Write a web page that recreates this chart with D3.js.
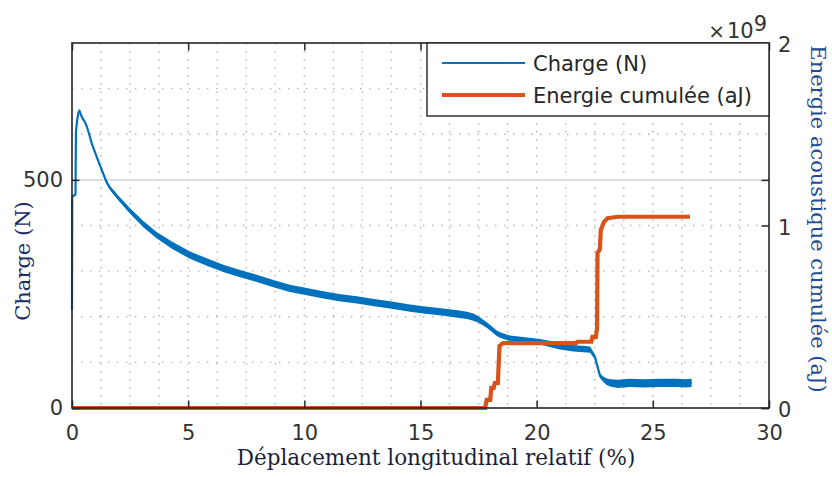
<!DOCTYPE html>
<html>
<head>
<meta charset="utf-8">
<script src="https://cdn.jsdelivr.net/npm/d3@7"></script>
<style>
  body { margin: 0; background: #fff; }
  svg { display: block; }
</style>
</head>
<body>
<svg id="chart" width="832" height="477"></svg>
<script>
// Relative longitudinal displacement (%) and measured load (N)
const dispX = [0, 0.01, 0.15, 0.17, 0.22, 0.27, 0.32, 0.37, 0.42, 0.49, 0.56, 0.63, 0.74, 0.85, 0.95,
  1.06, 1.17, 1.28, 1.4, 1.49, 1.64, 1.75, 2.0, 2.5, 3.07, 3.64, 4.3, 5.08, 5.8, 6.51, 7.2, 7.95,
  8.7, 9.38, 10.1, 10.82, 11.5, 12.26, 13.0, 13.69, 14.55, 15.12, 15.98, 16.6, 17.0, 17.27, 17.5,
  17.85, 18.0, 18.28, 18.42, 18.71, 18.85, 19.5, 20.15, 20.6, 21.0, 21.58, 22.3, 22.44, 22.51,
  22.58, 22.66, 22.73, 22.87, 23.0, 23.16, 23.5, 24.0, 24.6, 25.3, 26.03, 26.4, 26.67];
const charge = [215, 463, 468, 605, 630, 646, 652, 645, 638, 632, 626, 618, 600, 580, 566,
  551, 536, 522, 506, 495, 482, 475, 460, 432, 403, 379, 357, 335, 320, 306, 295, 284,
  272, 262, 255, 248, 242, 237, 231, 226, 219, 215, 210, 206, 203, 199, 194,
  182, 176, 164, 160, 155, 153, 149, 145, 140, 135, 131, 128, 117, 112,
  98, 83, 70, 63, 58, 55, 53, 55, 54, 55, 55, 54, 55];
// half-width of the measurement noise band (N)
const chargeSpread = [1, 1, 1, 1, 1, 2, 2, 2, 2, 2, 2, 2, 2, 3, 3,
  3, 3, 4, 4, 4, 4, 5, 5, 6, 7, 7, 8, 8, 8, 8, 8, 8,
  8, 8, 8, 8, 8, 8, 8, 8, 8, 8, 8, 8, 8, 8, 7,
  6, 6, 6, 6, 6, 6, 6, 6, 7, 7, 7, 7, 6, 6,
  5, 5, 5, 6, 7, 8, 9, 9, 9, 9, 9, 9, 9];

// Cumulative acoustic energy (×10^9 aJ)
const energyX = [0, 17.78, 17.85, 18.0, 18.05, 18.15, 18.2, 18.33, 18.4, 18.55, 21.7, 21.75,
  22.35, 22.4, 22.55, 22.6, 22.62, 22.72, 22.76, 22.9, 23.05, 23.5, 26.6];
const energy = [0, 0, 0.044, 0.044, 0.11, 0.11, 0.137, 0.137, 0.34, 0.356, 0.356, 0.363,
  0.363, 0.39, 0.39, 0.44, 0.85, 0.87, 0.975, 1.02, 1.04, 1.048, 1.048];

const xTicks = [0, 5, 10, 15, 20, 25, 30];
const chargeTicks = [0, 500];
const energyTicks = [0, 1, 2];
const legendLabels = ["Charge (N)", "Energie cumulée (aJ)"];
const xTitle = "Déplacement longitudinal relatif (%)";
const yTitle = "Charge (N)";
const y2Title = "Energie acoustique cumulée (aJ)";

const blue = "#0072BD", orange = "#D95319", axisInk = "#262626";
const tickFont = "'DejaVu Sans', sans-serif";
const titleFont = "'DejaVu Serif', serif";

const svg = d3.select("#chart");
const m = { left: 72, top: 43, right: 769, bottom: 408 };

const x = d3.scaleLinear().domain([0, 30]).range([m.left, m.right]);
const y = d3.scaleLinear().domain([0, 800]).range([m.bottom, m.top]);
const y2 = d3.scaleLinear().domain([0, 2]).range([m.bottom, m.top]);

// minor dotted grid
const g = svg.append("g");
const minorX = d3.range(1, 24).map(k => k * 1.25);
g.selectAll("line.vx").data(minorX).join("line")
  .attr("x1", d => x(d)).attr("x2", d => x(d))
  .attr("y1", m.top).attr("y2", m.bottom)
  .attr("stroke", "#b4b4b4").attr("stroke-width", 1.4)
  .attr("stroke-dasharray", "1.4,6.6");
const minorY = [100, 200, 300, 400, 600, 700];
g.selectAll("line.hy").data(minorY).join("line")
  .attr("x1", m.left).attr("x2", m.right)
  .attr("y1", d => y(d)).attr("y2", d => y(d))
  .attr("stroke", "#b4b4b4").attr("stroke-width", 1.4)
  .attr("stroke-dasharray", "1.4,7.6");
// major grid line
g.append("line")
  .attr("x1", m.left).attr("x2", m.right)
  .attr("y1", y(500)).attr("y2", y(500))
  .attr("stroke", "#d6d6d6").attr("stroke-width", 1.5);

// load curve with its noise band
const pts = dispX.map((d, i) => ({ x: d, v: charge[i], s: chargeSpread[i] }));
svg.append("path").datum(pts)
  .attr("fill", blue)
  .attr("d", d3.area().x(d => x(d.x)).y0(d => y(d.v - d.s)).y1(d => y(d.v + d.s)));
svg.append("path").datum(pts)
  .attr("fill", "none").attr("stroke", blue).attr("stroke-width", 2.2)
  .attr("stroke-linejoin", "round")
  .attr("d", d3.line().x(d => x(d.x)).y(d => y(d.v)));

// cumulative energy
const ePts = energyX.map((d, i) => ({ x: d, v: energy[i] }));
svg.append("path").datum(ePts)
  .attr("fill", "none").attr("stroke", orange).attr("stroke-width", 4.2)
  .attr("stroke-linejoin", "miter")
  .attr("d", d3.line().x(d => x(d.x)).y(d => y2(d.v)));

// axes
const tl = 7.5;
const axX = d3.axisBottom(x).tickValues(xTicks).tickSize(-tl).tickPadding(17);
const axXTop = d3.axisTop(x).tickValues(xTicks).tickSize(-tl).tickFormat("");
const axY = d3.axisLeft(y).tickValues(chargeTicks).tickSize(-tl).tickPadding(9);
const axYMirror = d3.axisRight(y).tickValues(chargeTicks).tickSize(-tl).tickFormat("");
const axY2 = d3.axisRight(y2).tickValues(energyTicks).tickSize(-tl).tickPadding(9).tickFormat(d3.format("d"));

function style(sel) {
  sel.select(".domain").remove();
  sel.selectAll(".tick line").attr("stroke", axisInk).attr("stroke-width", 1.5);
  sel.selectAll(".tick text").attr("fill", "#333").style("font-family", tickFont).style("font-size", "21px");
}
svg.append("g").attr("transform", `translate(0,${m.bottom})`).call(axX).call(style);
svg.append("g").attr("transform", `translate(0,${m.top})`).call(axXTop).call(style);
svg.append("g").attr("transform", `translate(${m.left},0)`).call(axY).call(style);
svg.append("g").attr("transform", `translate(${m.right},0)`).call(axYMirror).call(style);
const gy2 = svg.append("g").attr("transform", `translate(${m.right},0)`).call(axY2).call(style);
gy2.selectAll(".tick text").attr("dy", "0.42em");

// box
svg.append("rect")
  .attr("x", m.left).attr("y", m.top)
  .attr("width", m.right - m.left).attr("height", m.bottom - m.top)
  .attr("fill", "none").attr("stroke", axisInk).attr("stroke-width", 1.6);

// exponent label
const ex = svg.append("text").attr("x", 767).attr("y", 38)
  .attr("text-anchor", "end").attr("fill", "#333")
  .style("font-family", tickFont).style("font-size", "21px");
ex.append("tspan").text("×").style("font-size", "20px");
ex.append("tspan").text("10").attr("dx", 2);
ex.append("tspan").text("9").attr("dy", -7);

// legend
const lg = svg.append("g");
lg.append("rect").attr("x", 427).attr("y", m.top).attr("width", m.right - 427).attr("height", 116 - m.top)
  .attr("fill", "#fff").attr("stroke", axisInk).attr("stroke-width", 1.4);
const legendStyle = [
  { color: blue, width: 1.8, y: 63 },
  { color: orange, width: 4.2, y: 95 }
];
legendLabels.forEach((lab, i) => {
  const s = legendStyle[i];
  lg.append("line").attr("x1", 442).attr("x2", 525).attr("y1", s.y).attr("y2", s.y)
    .attr("stroke", s.color).attr("stroke-width", s.width);
  lg.append("text").attr("x", 533).attr("y", s.y + 8).text(lab)
    .attr("fill", axisInk).style("font-family", tickFont).style("font-size", "21px");
});

// axis titles
svg.append("text").text(xTitle)
  .attr("x", 436).attr("y", 465).attr("text-anchor", "middle")
  .attr("fill", "#1c1f3a").style("font-family", titleFont).style("font-size", "21.5px");
svg.append("text").text(yTitle)
  .attr("transform", "translate(30,261) rotate(-90)").attr("text-anchor", "middle")
  .attr("fill", "#1d2d66").style("font-family", titleFont).style("font-size", "21px");
svg.append("text").text(y2Title)
  .attr("transform", "translate(811,219) rotate(90)").attr("text-anchor", "middle")
  .attr("fill", "#1f4c96").style("font-family", titleFont).style("font-size", "21px");
</script>
</body>
</html>
